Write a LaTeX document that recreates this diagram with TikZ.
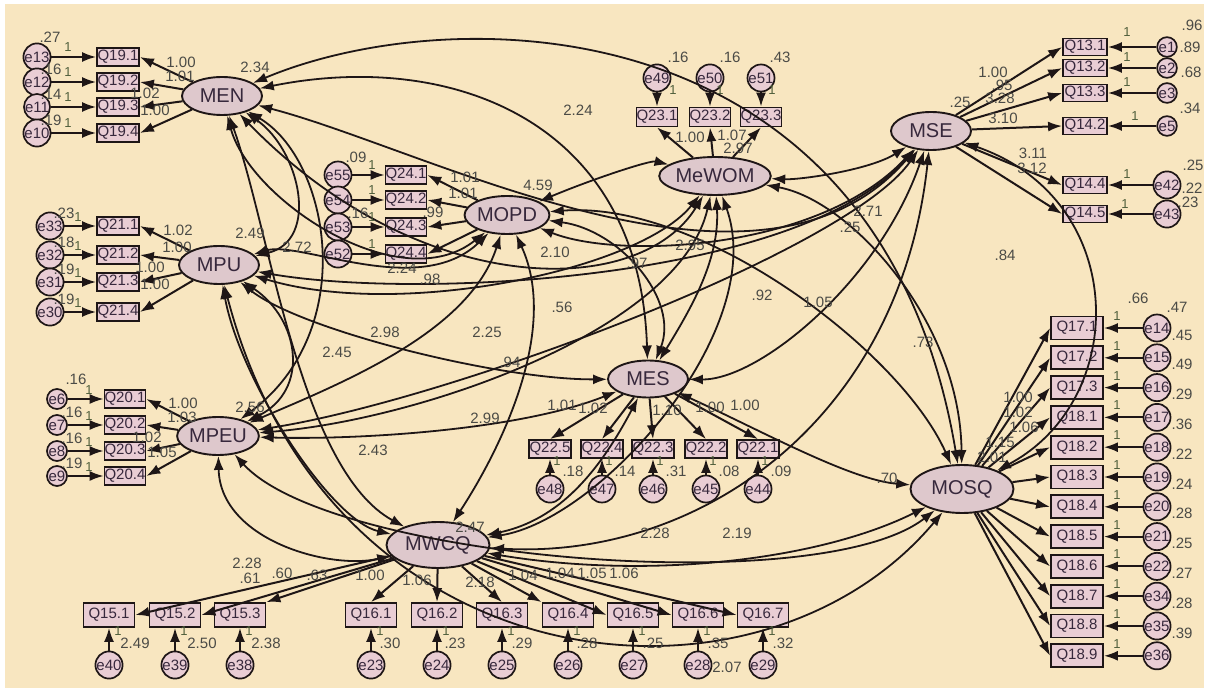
\documentclass[tikz,border=0pt]{standalone}
\usepackage{fontspec}
\setmainfont{Liberation Sans}
\usetikzlibrary{arrows.meta,shapes.geometric}
\definecolor{bgc}{RGB}{248,230,192}
\definecolor{latf}{RGB}{222,200,204}
\definecolor{obf}{RGB}{233,205,212}
\definecolor{lnc}{RGB}{30,22,22}
\definecolor{txc}{RGB}{75,75,70}
\definecolor{onec}{RGB}{80,95,60}
\definecolor{boxt}{RGB}{55,40,60}
\begin{document}
\begin{tikzpicture}[x=1pt,y=-1pt,
  lat/.style={ellipse,draw=lnc,line width=1.9pt,fill=latf,minimum width=80pt,minimum height=38pt,inner sep=0pt,font=\fontsize{20}{20}\selectfont,text=boxt},
  ob/.style={rectangle,draw=lnc,line width=1.8pt,fill=obf,minimum width=42pt,minimum height=18pt,inner sep=0pt,font=\fontsize{15}{15}\selectfont,text=boxt},
  er/.style={circle,draw=lnc,line width=1.7pt,fill=obf,minimum size=20pt,inner sep=0pt,font=\fontsize{15}{15}\selectfont,text=boxt},
  lb/.style={font=\fontsize{15}{15}\selectfont,text=txc,inner sep=0pt},
  one/.style={font=\fontsize{13}{13}\selectfont,text=onec,inner sep=0pt},
  reg/.style={line width=2pt,draw=lnc,-{Latex[length=14pt,width=10pt]}},
  cov/.style={line width=1.8pt,draw=lnc,{Latex[length=14pt,width=10pt]}-{Latex[length=14pt,width=10pt]}},
]
\useasboundingbox (0,0) rectangle (1208,692);
\fill[white] (0,0) rectangle (1208,692);
\fill[bgc] (5,4) rectangle (1204,688);

% latent variables
\node[lat] (MEN) at (222,96) {MEN};
\node[lat] (MPU) at (219,265) {MPU};
\node[lat] (MPEU) at (218,436) {MPEU};
\node[lat] (MOPD) at (507,215) {MOPD};
\node[lat,minimum width=84pt] (MeWOM) at (715,176) {MeWOM};
\node[lat] (MSE) at (931,131) {MSE};
\node[lat,minimum height=37pt] (MES) at (648,379) {MES};
\node[lat,minimum width=103pt,minimum height=48pt] (MOSQ) at (962,489) {MOSQ};
\node[lat,minimum width=103pt,minimum height=46pt] (MWCQ) at (438,545) {MWCQ};

% indicators and errors
\foreach \i/\y/\e in {1/57/13,2/82/12,3/107/11,4/133/10}{
  \node[ob] (q19\i) at (118,\y) {Q19.\i};
  \node[er] (e\e) at (37,\y) {e\e};
}
\foreach \i/\y/\e in {1/226/33,2/255/32,3/282/31,4/312/30}{
  \node[ob] (q21\i) at (118,\y) {Q21.\i};
  \node[er] (e\e) at (50,\y) {e\e};
}
\foreach \i/\y/\e in {1/399/6,2/425/7,3/451/8,4/476/9}{
  \node[ob,minimum width=40pt] (q20\i) at (125,\y) {Q20.\i};
  \node[er] (e\e) at (57,\y) {e\e};
}
\foreach \i/\y/\e in {1/175/55,2/200/54,3/227/53,4/254/52}{
  \node[ob,minimum width=40pt] (q24\i) at (406,\y) {Q24.\i};
  \node[er] (e\e) at (338,\y) {e\e};
}
\foreach \i/\x/\e in {1/657/49,2/710/50,3/761/51}{
  \node[ob,minimum width=40pt,minimum height=19pt] (q23\i) at (\x,117) {Q23.\i};
  \node[er] (e\e) at (\x,78) {e\e};
}
\foreach \i/\y/\q/\e in {1/47/Q13.1/1,2/68/Q13.2/2,3/93/Q13.3/3,4/126/Q14.2/5,5/185/Q14.4/42,6/214/Q14.5/43}{
  \node[ob,minimum width=44pt,minimum height=17pt] (ms\i) at (1085,\y) {\q};
  \node[er,minimum size=19pt] (e\e) at (1167,\y) {e\e};
}
\foreach \i/\x/\q/\e in {1/550/Q22.5/48,2/602/Q22.4/47,3/653/Q22.3/46,4/706/Q22.2/45,5/758/Q22.1/44}{
  \node[ob] (mes\i) at (\x,449) {\q};
  \node[er] (e\e) at (\x,489) {e\e};
}
\foreach \i/\q/\e in {0/Q17.1/14,1/Q17.2/15,2/Q17.3/16,3/Q18.1/17,4/Q18.2/18,5/Q18.3/19,6/Q18.4/20,7/Q18.5/21,8/Q18.6/22,9/Q18.7/34,10/Q18.8/35,11/Q18.9/36}{
  \pgfmathsetmacro\yy{328+29.8*\i}
  \node[ob,minimum width=52pt,minimum height=23pt] (mq\i) at (1077,\yy) {\q};
  \node[er,minimum size=25pt] (e\e) at (1157,\yy) {e\e};
}
\foreach \i/\x/\q/\e in {1/109/Q15.1/40,2/175/Q15.2/39,3/240/Q15.3/38,4/371/Q16.1/23,5/437/Q16.2/24,6/502/Q16.3/25,7/568/Q16.4/26,8/633/Q16.5/27,9/698/Q16.6/28,10/763/Q16.7/29}{
  \node[ob,minimum width=51pt,minimum height=24pt] (mw\i) at (\x,615) {\q};
  \node[er,minimum size=26pt] (e\e) at (\x,665) {e\e};
}

% covariances
\foreach \a/\b/\p/\q/\r/\s in {
  MEN/MOSQ/450/0/880/0, MEN/MES/450/50/640/120, MEN/MSE/430/150/760/330,
  MEN/MeWOM/420/300/640/300, MEN/MPEU/330/160/360/330, MEN/MWCQ/270/230/300/470,
  MEN/MOPD/250/200/400/300, MEN/MPU/300/150/320/240,
  MPU/MOPD/300/240/420/300, MPU/MeWOM/400/320/640/270, MPU/MSE/420/300/800/280,
  MPU/MES/300/330/500/380, MPU/MOSQ/330/690/760/730, MPU/MWCQ/240/380/330/520,
  MPU/MPEU/300/320/310/390,
  MPEU/MOPD/350/380/470/330, MPEU/MeWOM/420/420/680/330, MPEU/MSE/450/400/850/250,
  MPEU/MES/360/440/520/430, MPEU/MOSQ/330/560/820/600, MPEU/MWCQ/220/540/330/570,
  MOPD/MeWOM/590/180/650/160, MOPD/MSE/620/260/820/250, MOPD/MES/620/230/680/300,
  MOPD/MOSQ/700/200/900/350, MOPD/MWCQ/560/330/500/450,
  MeWOM/MSE/800/180/870/170, MeWOM/MES/720/260/690/310, MeWOM/MOSQ/850/200/960/320,
  MeWOM/MWCQ/770/330/600/520,
  MSE/MES/880/280/760/380, MSE/MOSQ/1130/200/1130/400, MSE/MWCQ/900/420/700/560,
  MES/MOSQ/760/430/850/480, MES/MWCQ/600/470/560/520, MOSQ/MWCQ/820/560/650/580}{
  \draw[cov] (\a) .. controls (\p,\q) and (\r,\s) .. (\b);
}

% regressions
\foreach \i/\e in {1/13,2/12,3/11,4/10}{\draw[reg] (e\e) -- (q19\i); \draw[reg] (MEN) -- (q19\i.east);}
\foreach \i/\e in {1/33,2/32,3/31,4/30}{\draw[reg] (e\e) -- (q21\i); \draw[reg] (MPU) -- (q21\i.east);}
\foreach \i/\e in {1/6,2/7,3/8,4/9}{\draw[reg] (e\e) -- (q20\i); \draw[reg] (MPEU) -- (q20\i.east);}
\foreach \i/\e in {1/55,2/54,3/53,4/52}{\draw[reg] (e\e) -- (q24\i); \draw[reg] (MOPD) -- (q24\i.east);}
\foreach \i/\e in {1/49,2/50,3/51}{\draw[reg] (e\e) -- (q23\i); \draw[reg] (MeWOM) -- (q23\i.south);}
\foreach \i/\e in {1/1,2/2,3/3,4/5,5/42,6/43}{\draw[reg] (e\e) -- (ms\i); \draw[reg] (MSE) -- (ms\i.west);}
\foreach \i/\e in {1/48,2/47,3/46,4/45,5/44}{\draw[reg] (e\e) -- (mes\i); \draw[reg] (MES) -- (mes\i.north);}
\foreach \i/\e in {0/14,1/15,2/16,3/17,4/18,5/19,6/20,7/21,8/22,9/34,10/35,11/36}{\draw[reg] (e\e) -- (mq\i); \draw[reg] (MOSQ) -- (mq\i.west);}
\foreach \i/\e/\a in {1/40/east,2/39/east,3/38/north east,4/23/north,5/24/north,6/25/north,7/26/north west,8/27/west,9/28/west,10/29/west}{\draw[reg] (e\e) -- (mw\i); \draw[reg] (MWCQ) -- (mw\i.\a);}

% "1" labels
\foreach \y in {57,82,107,133}{\node[one] at (68,\y-10) {1};}
\foreach \y in {226,255,282,312}{\node[one] at (78,\y-9) {1};}
\foreach \y in {399,425,451,476}{\node[one] at (89,\y-9) {1};}
\foreach \y in {175,200,227,254}{\node[one] at (372,\y-10) {1};}
\foreach \x in {673,720,772}{\node[one] at (\x,90) {1};}
\foreach \x/\y in {1127/32,1127/57,1127/82,1135/116,1127/174,1125/204}{\node[one] at (\x,\y) {1};}
\foreach \x in {550,602,653,706,758}{\node[one] at (\x+7,461) {1};}
\foreach \i in {0,...,11}{\node[one] at (1117,316+29.8*\i) {1};}
\foreach \x in {109,175,240,371,437,502,568,633,698,763}{\node[one] at (\x+9,631) {1};}

% variances of error terms next to the left-hand groups
\foreach \x/\y/\t in {50/37/.27, 51/69/.16, 51/94/.14, 51/120/.19,
  64/213/.23, 64/242/.18, 64/269/.19, 64/299/.19,
  76/379/.16, 72/412/.16, 72/438/.16, 72/463/.19}{
  \node[lb] at (\x,\y) {\t};
}

% numeric labels
\foreach \x/\y/\t in {
  181/62/1.00, 180/76/1.01, 145/93/1.02, 155/110/1.00, 255/67/2.34,
  178/230/1.02, 177/247/1.00, 150/267/1.00, 155/284/1.00, 250/233/2.49, 297/247/2.72,
  183/403/1.00, 182/417/1.03, 147/437/1.02, 162/452/1.05, 250/407/2.56,
  356/157/.09, 358/213/.16, 465/177/1.01, 463/193/1.01, 433/212/.99, 402/268/2.24, 430/279/.98, 538/185/4.59,
  678/57/.16, 730/57/.16, 780/57/.43, 690/137/1.00, 732/135/1.07, 738/148/2.97,
  1192/25/.96, 1190/47/.89, 1191/72/.68, 1190/108/.34, 1193/165/.25, 1192/188/.22, 1188/202/.23,
  993/72/1.00, 1002/85/.95, 1000/98/3.28, 960/102/.25, 1003/118/3.10, 1033/153/3.11, 1032/168/3.12,
  562/405/1.01, 593/408/1.02, 667/410/1.10, 710/407/1.00, 745/405/1.00,
  573/471/.18, 625/471/.14, 676/471/.31, 729/471/.08, 781/471/.09,
  1177/307/.47, 1018/397/1.00, 1018/412/1.02, 1024/427/1.06, 1000/442/1.15, 992/457/2.01,
  337/352/2.45, 385/332/2.98, 487/332/2.25, 555/252/2.10, 637/263/.97, 690/245/2.95, 762/295/.92,
  818/302/1.05, 1005/255/.84, 923/342/.73, 1138/298/.66, 868/211/2.71, 850/227/.25, 562/307/.56,
  510/362/.94, 485/418/2.99, 373/450/2.43, 655/533/2.28, 737/533/2.19, 887/478/.70, 247/563/2.28,
  578/110/2.24, 470/527/2.47,
  250/578/.61, 282/573/.60, 317/575/.63, 370/575/1.00, 417/580/1.06, 480/582/2.18, 523/575/1.04,
  560/573/1.04, 592/573/1.05, 624/573/1.06,
  135/643/2.49, 202/643/2.50, 266/643/2.38, 390/643/.30, 455/643/.23, 522/643/.29, 587/643/.28,
  653/643/.25, 718/643/.35, 783/643/.32, 727/667/2.07}{
  \node[lb] at (\x,\y) {\t};
}
\foreach \i/\t in {0/.45,1/.49,2/.29,3/.36,4/.22,5/.24,6/.28,7/.25,8/.27,9/.28,10/.39}{
  \node[lb] at (1182,335+29.8*\i) {\t};
}
\end{tikzpicture}
\end{document}
